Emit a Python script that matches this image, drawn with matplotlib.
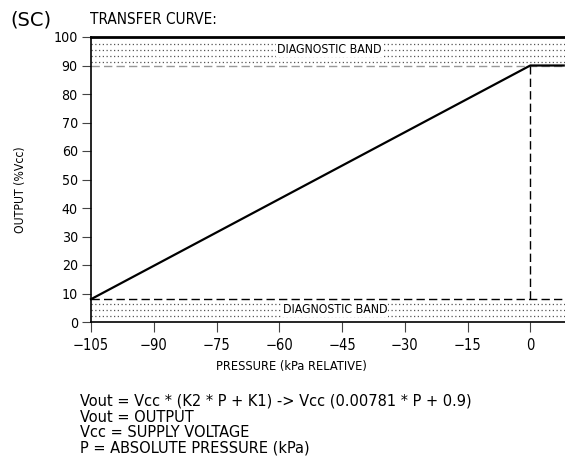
import matplotlib.pyplot as plt

# transfer curve points
pressure = [-105, 0, 8]
output = [8, 90, 90]

x_ticks = [-105, -90, -75, -60, -45, -30, -15, 0]
y_ticks = [0, 10, 20, 30, 40, 50, 60, 70, 80, 90, 100]

upper_band = [90, 100]
lower_band = [0, 8]
upper_dots = [91.1, 93.2, 95.4, 97.5]
lower_dots = [2.1, 4.1, 6.2]

formula_lines = [
    "Vout = Vcc * (K2 * P + K1) -> Vcc (0.00781 * P + 0.9)",
    "Vout = OUTPUT",
    "Vcc = SUPPLY VOLTAGE",
    "P = ABSOLUTE PRESSURE (kPa)",
]

plt.rcParams['font.family'] = ['DejaVu Sans']
plt.rcParams['font.stretch'] = 'condensed'

fig = plt.figure(figsize=(5.65, 4.68), dpi=100)
ax = fig.add_axes([91 / 565, 1 - 322 / 468, 474 / 565, 285 / 468])

xmin, xmax = -105, 8.3
ax.set_xlim(xmin, xmax)
ax.set_ylim(0, 100)

# diagnostic bands
for y in upper_dots + lower_dots:
    ax.plot([xmin, xmax], [y, y], color='#555555', lw=0.9, ls=(0, (1, 2)), clip_on=False)
ax.plot([xmin, xmax], [upper_band[1], upper_band[1]], color='black', lw=2.0, clip_on=False)
ax.plot([xmin, xmax], [upper_band[0], upper_band[0]], color='#999999', lw=1.0, ls=(0, (6, 3)))
ax.plot([xmin, xmax], [lower_band[1], lower_band[1]], color='black', lw=1.0, ls=(0, (6, 3)))
ax.plot([0, 0], [lower_band[1], upper_band[0]], color='black', lw=1.0, ls=(0, (6, 3)))

ax.text(-48.1, 95.5, "DIAGNOSTIC BAND", ha='center', va='center', fontsize=8.8,
        bbox=dict(facecolor='white', edgecolor='none', pad=0.5))
ax.text(-46.7, 4.4, "DIAGNOSTIC BAND", ha='center', va='center', fontsize=8.8,
        bbox=dict(facecolor='white', edgecolor='none', pad=0.5))

# transfer curve
ax.plot(pressure, output, color='black', lw=1.6, clip_on=False)

for side in ['top', 'right']:
    ax.spines[side].set_visible(False)
ax.spines['left'].set_linewidth(1.2)
ax.spines['bottom'].set_linewidth(1.2)

ax.set_xticks(x_ticks)
ax.set_xticklabels([str(t).replace('-', '\u2212') for t in x_ticks])
ax.set_yticks(y_ticks)
ax.tick_params(axis='y', labelsize=10.2, length=6.5, width=0.8, color='#444444', pad=3)
ax.tick_params(axis='x', labelsize=10.5, length=7.5, width=0.8, color='#444444', pad=4)

ax.set_xlabel("PRESSURE (kPa RELATIVE)", fontsize=9.2)
ax.xaxis.set_label_coords((291 - 91) / 474, -(360 - 322) / 285)
ax.set_ylabel("OUTPUT (%Vcc)", fontsize=8.7)
ax.yaxis.set_label_coords((27 - 91) / 474, (322 - 190) / 285)

fig.text(10 / 565, 1 - 20 / 468, "(SC)", fontsize=14, va='center', stretch='normal')
fig.text(90 / 565, 1 - 20 / 468, "TRANSFER CURVE:", fontsize=11, va='center')

fig.text(80 / 565, 1 - 394 / 468, "\n".join(formula_lines), fontsize=11.7, va='top',
         linespacing=1.05)

plt.savefig("out.png", dpi=100)
plt.close()
